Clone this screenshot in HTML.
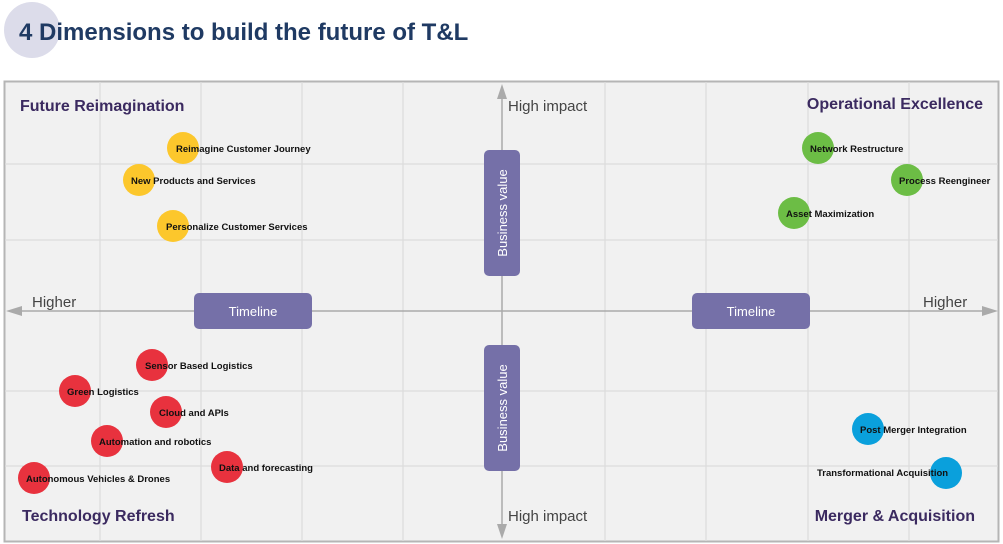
<!DOCTYPE html>
<html><head><meta charset="utf-8"><style>
html,body{margin:0;padding:0;background:#fff;width:1003px;height:544px;overflow:hidden}
svg{display:block}
text{font-family:"Liberation Sans",sans-serif}
.l{font-size:9.5px;font-weight:bold;fill:#111}
.q{font-size:16px;font-weight:bold;fill:#3b2a60}
.a{font-size:15px;fill:#444}
.b{font-size:13px;fill:#fff}
</style></head><body>
<svg width="1003" height="544" viewBox="0 0 1003 544">
<circle cx="32" cy="30" r="28" fill="#dcdcea"/>
<text x="19" y="40" font-size="24" font-weight="bold" fill="#1f3a63">4 Dimensions to build the future of T&amp;L</text>
<rect x="4.5" y="81.5" width="994" height="460" fill="#f1f1f1" stroke="#b5b5b5" stroke-width="2"/>
<g stroke="#dcdcdc" stroke-width="1.2">
<line x1="100" y1="82" x2="100" y2="541"/><line x1="201" y1="82" x2="201" y2="541"/>
<line x1="302" y1="82" x2="302" y2="541"/><line x1="403" y1="82" x2="403" y2="541"/>
<line x1="605" y1="82" x2="605" y2="541"/><line x1="706" y1="82" x2="706" y2="541"/>
<line x1="808" y1="82" x2="808" y2="541"/><line x1="909" y1="82" x2="909" y2="541"/>
<line x1="5" y1="164" x2="998" y2="164"/><line x1="5" y1="240" x2="998" y2="240"/>
<line x1="5" y1="391" x2="998" y2="391"/><line x1="5" y1="466" x2="998" y2="466"/>
</g>
<g stroke="#aaa" stroke-width="1.5">
<line x1="14" y1="311" x2="990" y2="311"/>
<line x1="502" y1="92" x2="502" y2="530"/>
</g>
<g fill="#aaa">
<polygon points="6,311 22,306 22,316"/><polygon points="998,311 982,306 982,316"/>
<polygon points="502,84 497,99 507,99"/><polygon points="502,539 497,524 507,524"/>
</g>
<g fill="#7570a8">
<rect x="194" y="293" width="118" height="36" rx="5"/>
<rect x="692" y="293" width="118" height="36" rx="5"/>
<rect x="484" y="150" width="36" height="126" rx="5"/>
<rect x="484" y="345" width="36" height="126" rx="5"/>
</g>
<text class="b" x="253" y="316" text-anchor="middle">Timeline</text>
<text class="b" x="751" y="316" text-anchor="middle">Timeline</text>
<text class="b" transform="translate(507,213) rotate(-90)" text-anchor="middle">Business value</text>
<text class="b" transform="translate(507,408) rotate(-90)" text-anchor="middle">Business value</text>
<text class="q" x="20" y="111">Future Reimagination</text>
<text class="q" x="983" y="109" text-anchor="end">Operational Excellence</text>
<text class="q" x="22" y="521">Technology Refresh</text>
<text class="q" x="975" y="521" text-anchor="end">Merger &amp; Acquisition</text>
<text class="a" x="508" y="111">High impact</text>
<text class="a" x="508" y="521">High impact</text>
<text class="a" x="32" y="307">Higher</text>
<text class="a" x="923" y="307">Higher</text>
<g fill="#fcc72c"><circle cx="183" cy="148" r="16"/><circle cx="139" cy="180" r="16"/><circle cx="173" cy="226" r="16"/></g>
<g fill="#6cbd45"><circle cx="818" cy="148" r="16"/><circle cx="907" cy="180" r="16"/><circle cx="794" cy="213" r="16"/></g>
<g fill="#e8323e"><circle cx="152" cy="365" r="16"/><circle cx="75" cy="391" r="16"/><circle cx="166" cy="412" r="16"/><circle cx="107" cy="441" r="16"/><circle cx="227" cy="467" r="16"/><circle cx="34" cy="478" r="16"/></g>
<g fill="#0aa0dc"><circle cx="868" cy="429" r="16"/><circle cx="946" cy="473" r="16"/></g>
<g class="l">
<text class="l" x="176" y="152">Reimagine Customer Journey</text>
<text class="l" x="131" y="184">New Products and Services</text>
<text class="l" x="166" y="230">Personalize Customer Services</text>
<text class="l" x="810" y="152">Network Restructure</text>
<text class="l" x="899" y="184">Process Reengineer</text>
<text class="l" x="786" y="217">Asset Maximization</text>
<text class="l" x="145" y="369">Sensor Based Logistics</text>
<text class="l" x="67" y="395">Green Logistics</text>
<text class="l" x="159" y="416">Cloud and APIs</text>
<text class="l" x="99" y="445">Automation and robotics</text>
<text class="l" x="219" y="471">Data and forecasting</text>
<text class="l" x="26" y="482">Autonomous Vehicles &amp; Drones</text>
<text class="l" x="860" y="433">Post Merger Integration</text>
<text class="l" x="817" y="476">Transformational Acquisition</text>
</g>
</svg>
</body></html>
